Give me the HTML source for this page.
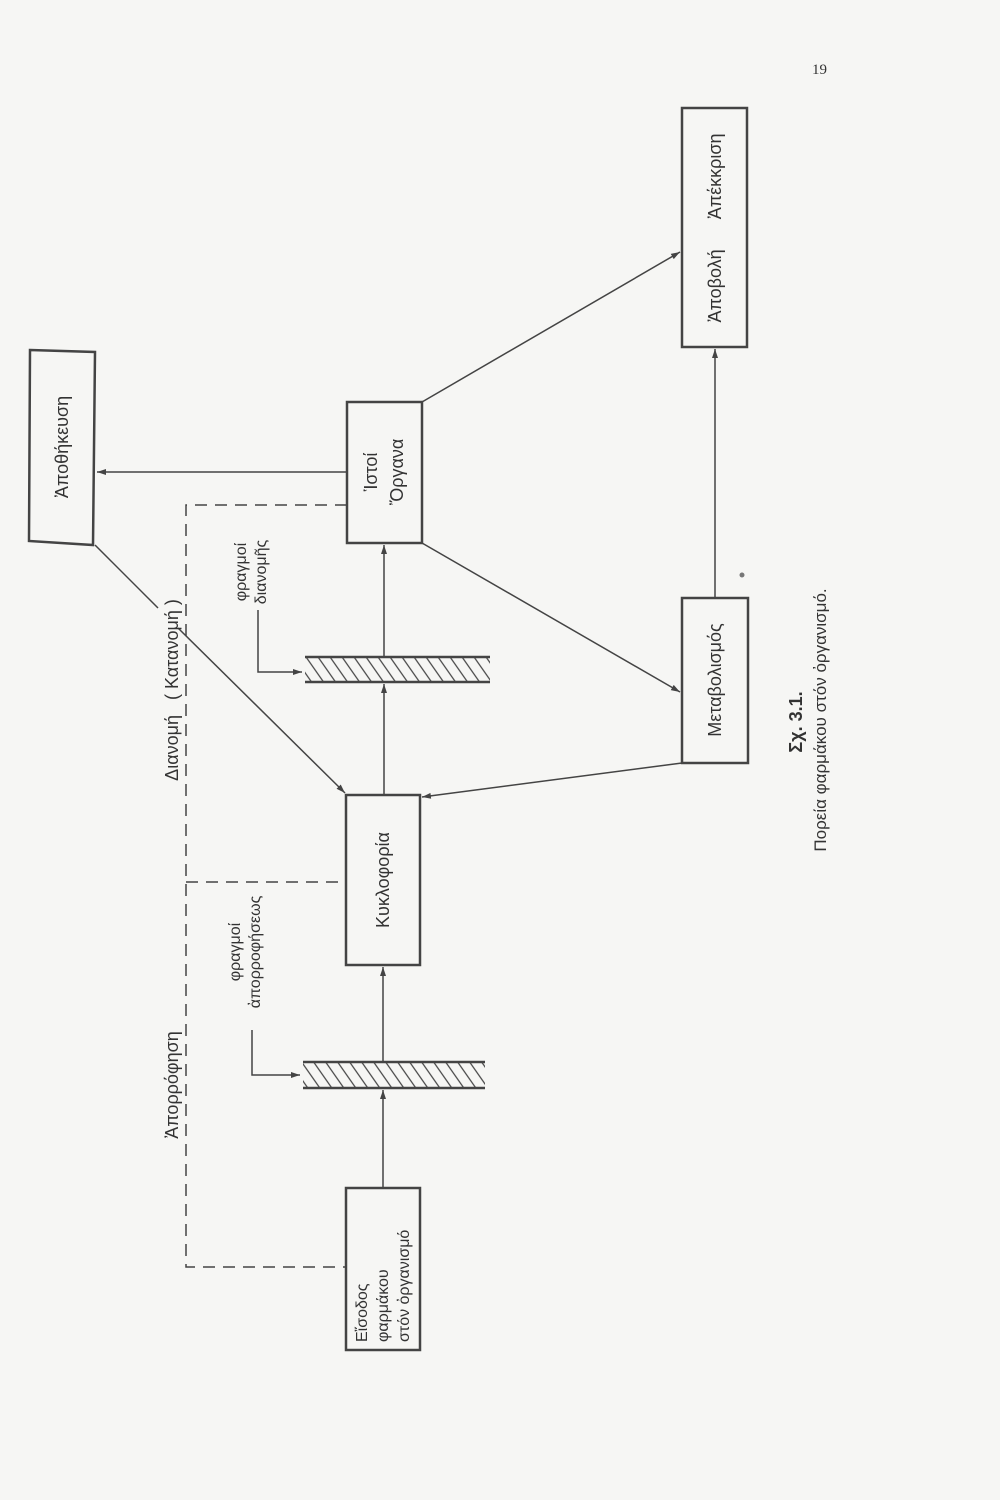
<!DOCTYPE html>
<html><head><meta charset="utf-8"><style>
html,body{margin:0;padding:0;background:#f6f6f4;}
svg{display:block;}
text{font-family:"Liberation Sans","DejaVu Sans",sans-serif;fill:#333;}
</style></head><body>
<svg width="1000" height="1500" viewBox="0 0 1000 1500" xmlns="http://www.w3.org/2000/svg">
<defs>
<marker id="a" markerWidth="10" markerHeight="8" refX="9" refY="4" orient="auto" markerUnits="userSpaceOnUse">
<path d="M0,1 L9,4 L0,7 Z" fill="#444"/></marker>
<pattern id="h" width="12" height="30" patternUnits="userSpaceOnUse" patternTransform="skewX(35)">
<line x1="2" y1="0" x2="2" y2="30" stroke="#444" stroke-width="1.5"/></pattern>
</defs>
<text x="812" y="74" font-size="15" style="font-family:'Liberation Serif',serif">19</text>
<g fill="none" stroke="#444" stroke-width="2.5">
<path d="M30,350 L95,352 L93,545 L29,541 Z"/>
<rect x="347" y="402" width="75" height="141"/>
<rect x="346" y="795" width="74" height="170"/>
<rect x="346" y="1188" width="74" height="162"/>
<rect x="682" y="108" width="65" height="239"/>
<rect x="682" y="598" width="66" height="165"/>
</g>
<rect x="305" y="658" width="185" height="24" fill="url(#h)"/>
<line x1="305" y1="657" x2="490" y2="657" stroke="#444" stroke-width="2.5"/>
<line x1="305" y1="682" x2="490" y2="682" stroke="#444" stroke-width="2.5"/>
<rect x="303" y="1063" width="182" height="25" fill="url(#h)"/>
<line x1="303" y1="1062" x2="485" y2="1062" stroke="#444" stroke-width="2.5"/>
<line x1="303" y1="1088" x2="485" y2="1088" stroke="#444" stroke-width="2.5"/>
<g fill="none" stroke="#444" stroke-width="1.5">
<line x1="347" y1="472" x2="97" y2="472" marker-end="url(#a)"/>
<line x1="384" y1="657" x2="384" y2="545" marker-end="url(#a)"/>
<line x1="384" y1="795" x2="384" y2="684" marker-end="url(#a)"/>
<line x1="383" y1="1062" x2="383" y2="967" marker-end="url(#a)"/>
<line x1="383" y1="1188" x2="383" y2="1090" marker-end="url(#a)"/>
<line x1="422" y1="402" x2="680" y2="252" marker-end="url(#a)"/>
<line x1="422" y1="543" x2="680" y2="692" marker-end="url(#a)"/>
<line x1="715" y1="598" x2="715" y2="349" marker-end="url(#a)"/>
<line x1="682" y1="763" x2="422" y2="797" marker-end="url(#a)"/>
<line x1="95" y1="545" x2="158" y2="608"/>
<line x1="178" y1="628" x2="345" y2="793" marker-end="url(#a)"/>
<polyline points="258,610 258,672 302,672" marker-end="url(#a)"/>
<polyline points="252,1030 252,1075 300,1075" marker-end="url(#a)"/>
<g stroke-dasharray="12,8">
<polyline points="347,505 186,505 186,1267 346,1267"/>
<line x1="186" y1="882" x2="346" y2="882"/>
</g>
</g>
<g font-size="18">
<text transform="translate(68,447) rotate(-90)" text-anchor="middle">Ἀποθήκευση</text>
<text transform="translate(377,472) rotate(-90)" text-anchor="middle">Ἱστοί</text>
<text transform="translate(403,472) rotate(-90)" text-anchor="middle">Ὄργανα</text>
<text transform="translate(389,880) rotate(-90)" text-anchor="middle">Κυκλοφορία</text>
<text transform="translate(721,228) rotate(-90)" text-anchor="middle" xml:space="preserve">Ἀποβολή      Ἀπέκκριση</text>
<text transform="translate(721,680) rotate(-90)" text-anchor="middle">Μεταβολισμός</text>
<text transform="translate(178,690) rotate(-90)" text-anchor="middle" xml:space="preserve">Διανομή   ( Κατανομή )</text>
<text transform="translate(178,1085) rotate(-90)" text-anchor="middle">Ἀπορρόφηση</text>
</g>
<g font-size="16">
<text transform="translate(367,1342) rotate(-90)">Εἴσοδος</text>
<text transform="translate(388,1342) rotate(-90)">φαρμάκου</text>
<text transform="translate(409,1342) rotate(-90)">στόν ὀργανισμό</text>
<text transform="translate(246,572) rotate(-90)" text-anchor="middle">φραγμοί</text>
<text transform="translate(266,572) rotate(-90)" text-anchor="middle">διανομῆς</text>
<text transform="translate(240,952) rotate(-90)" text-anchor="middle">φραγμοί</text>
<text transform="translate(260,952) rotate(-90)" text-anchor="middle">ἀπορροφήσεως</text>
</g>
<text transform="translate(802,722) rotate(-90)" text-anchor="middle" font-size="18" font-weight="bold">Σχ. 3.1.</text>
<text transform="translate(826,720) rotate(-90)" text-anchor="middle" font-size="17">Πορεία φαρμάκου στόν ὀργανισμό.</text>
<circle cx="742" cy="575" r="2.5" fill="#777"/>
</svg>
</body></html>
